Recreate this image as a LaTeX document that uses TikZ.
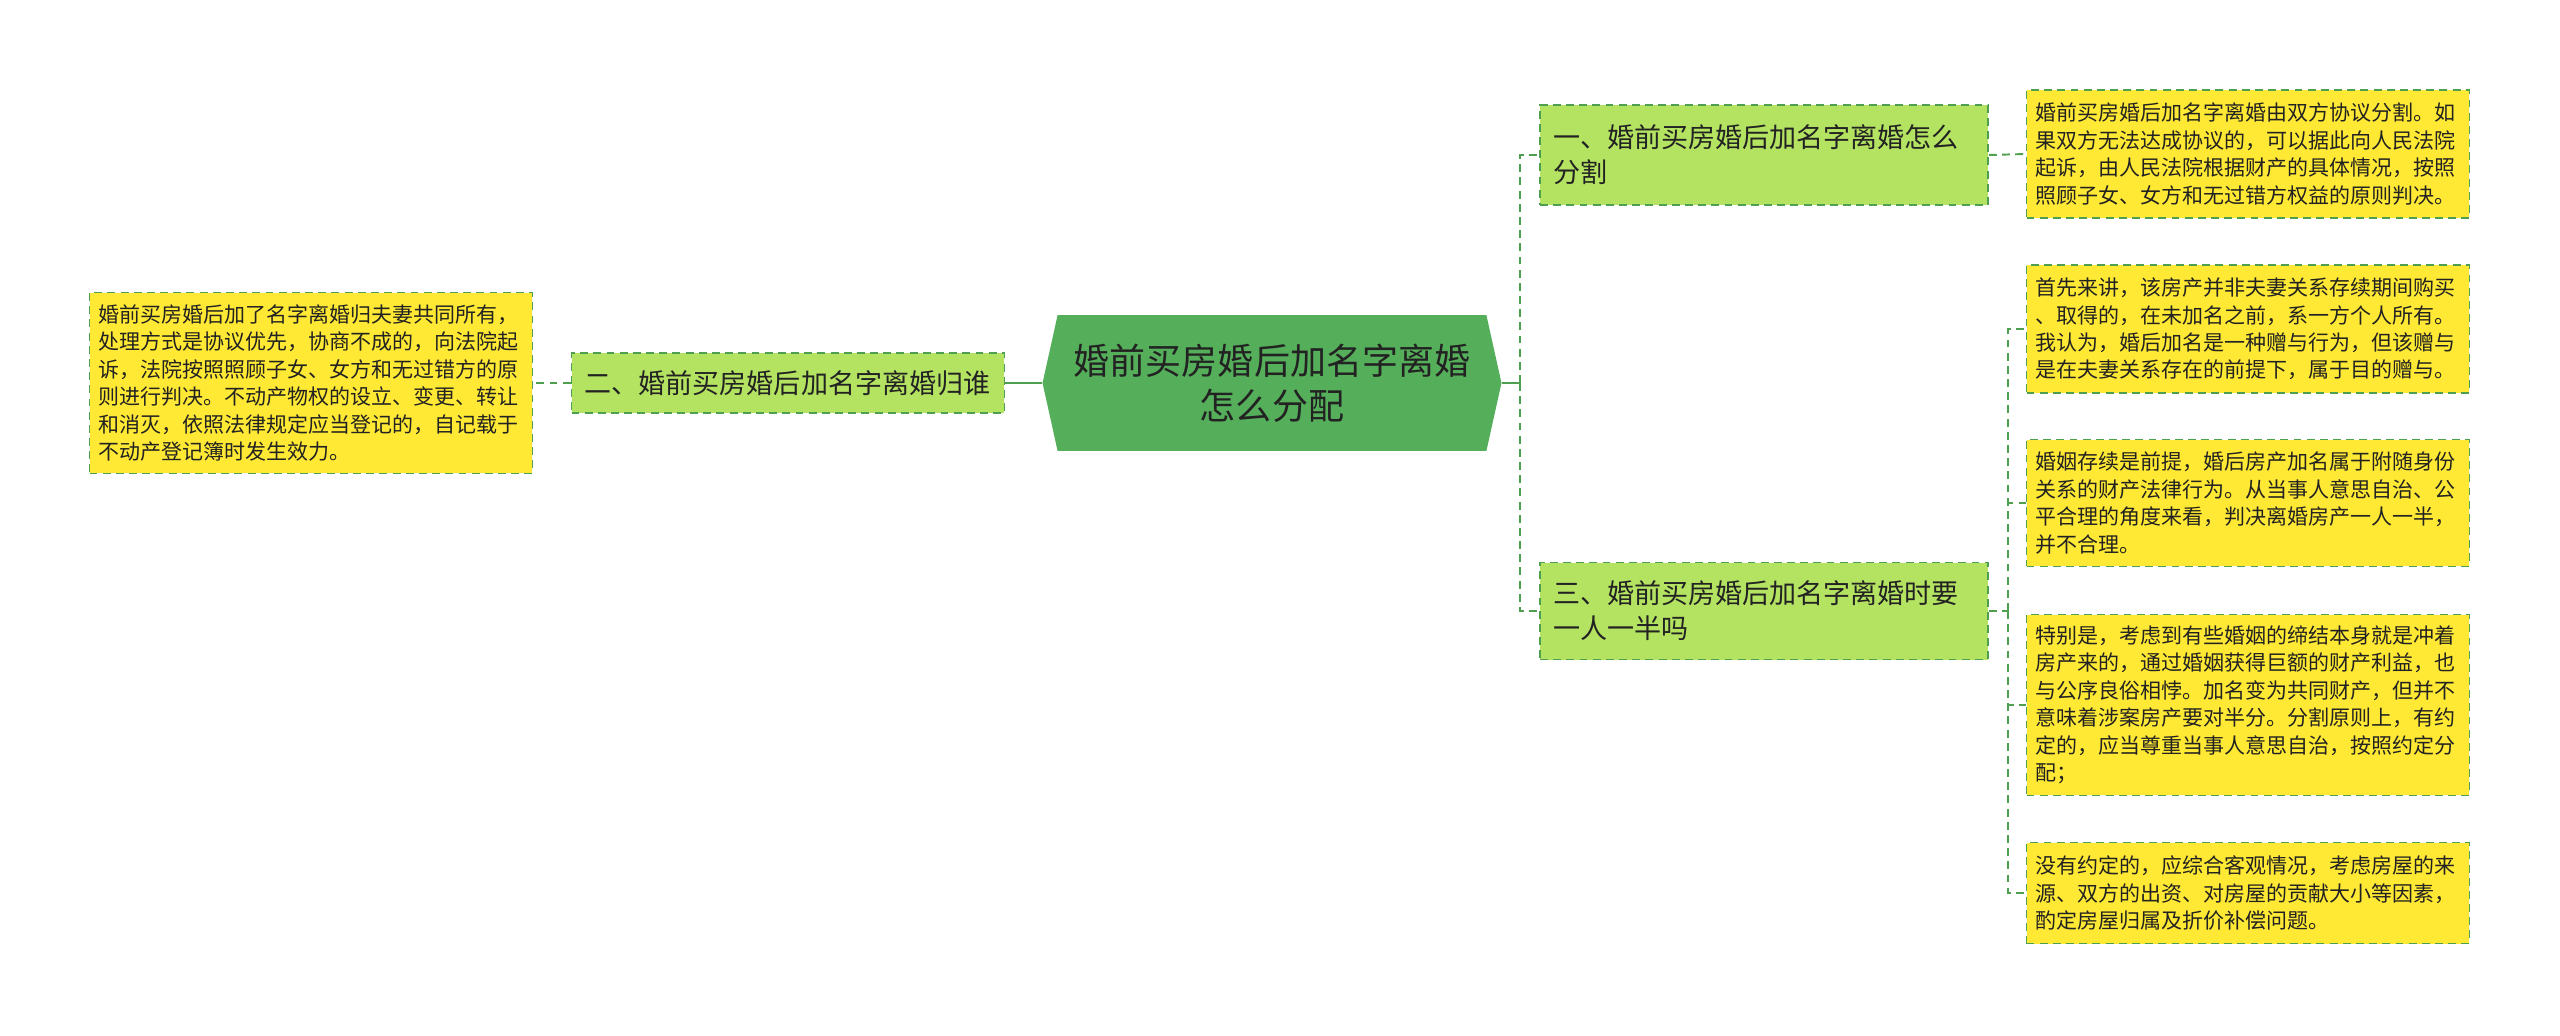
\documentclass[tikz,border=0pt]{standalone}
\usepackage{fontspec}
\newfontfamily\cjk{Noto Sans CJK SC}
\usetikzlibrary{shapes.symbols}
\definecolor{rootgreen}{HTML}{55AE5A}
\definecolor{branchgreen}{HTML}{B4E362}
\definecolor{leafyellow}{HTML}{FFE934}
\definecolor{linegreen}{HTML}{4F9F50}
\definecolor{inkgray}{HTML}{222222}

\tikzset{
	rootbox/.style={signal, signal to=east and west, signal pointer angle=155, fill=rootgreen, text=inkgray, align=center, minimum width=9.18cm, minimum height=2.72cm, inner sep=0pt, font=\cjk\fontsize{20.5pt}{25.6pt}\selectfont},
	branchbox/.style={draw=linegreen, dashed, dash pattern=on 4.5pt off 3pt, line width=1pt, fill=branchgreen, text=inkgray, align=left, inner xsep=0.26cm, inner ysep=0pt, font=\cjk\fontsize{15.4pt}{19.9pt}\selectfont},
	leafbox/.style={draw=linegreen, dashed, dash pattern=on 4.5pt off 3pt, line width=1pt, fill=leafyellow, text=inkgray, align=left, text width=8.5cm, inner xsep=0.18cm, inner ysep=0pt, font=\cjk\fontsize{11.95pt}{15.65pt}\selectfont},
	trunk/.style={draw=linegreen, line width=1.6pt},
	twig/.style={draw=linegreen, line width=1.1pt, dash pattern=on 4.5pt off 3pt}
}

\begin{document}
\begin{tikzpicture}[x=0.02cm, y=-0.02cm]
	\useasboundingbox (0,0) rectangle (2560,1035);

	\node[rootbox] (root) at (1272,383) {婚前买房婚后加名字离婚\\怎么分配};

	\node[branchbox, text width=8.14cm, minimum height=1.2cm] (b2) at (788,383) {二、婚前买房婚后加名字离婚归谁};
	\node[branchbox, text width=8.44cm, minimum height=2cm] (b1) at (1764,155) {一、婚前买房婚后加名字离婚怎么\\分割};
	\node[branchbox, text width=8.44cm, minimum height=1.94cm] (b3) at (1764,611) {三、婚前买房婚后加名字离婚时要\\一人一半吗};

	\node[leafbox, minimum height=3.62cm] (l0) at (311,383) {婚前买房婚后加了名字离婚归夫妻共同所有，\\处理方式是协议优先，协商不成的，向法院起\\诉，法院按照照顾子女、女方和无过错方的原\\则进行判决。不动产物权的设立、变更、转让\\和消灭，依照法律规定应当登记的，自记载于\\不动产登记簿时发生效力。};
	\node[leafbox, minimum height=2.56cm] (l1) at (2248,154) {婚前买房婚后加名字离婚由双方协议分割。如\\果双方无法达成协议的，可以据此向人民法院\\起诉，由人民法院根据财产的具体情况，按照\\照顾子女、女方和无过错方权益的原则判决。};
	\node[leafbox, minimum height=2.56cm] (l2) at (2248,329) {首先来讲，该房产并非夫妻关系存续期间购买\\、取得的，在未加名之前，系一方个人所有。\\我认为，婚后加名是一种赠与行为，但该赠与\\是在夫妻关系存在的前提下，属于目的赠与。};
	\node[leafbox, minimum height=2.54cm] (l3) at (2248,503) {婚姻存续是前提，婚后房产加名属于附随身份\\关系的财产法律行为。从当事人意思自治、公\\平合理的角度来看，判决离婚房产一人一半，\\并不合理。};
	\node[leafbox, minimum height=3.62cm] (l4) at (2248,705) {特别是，考虑到有些婚姻的缔结本身就是冲着\\房产来的，通过婚姻获得巨额的财产利益，也\\与公序良俗相悖。加名变为共同财产，但并不\\意味着涉案房产要对半分。分割原则上，有约\\定的，应当尊重当事人意思自治，按照约定分\\配；};
	\node[leafbox, minimum height=2.02cm] (l5) at (2248,893) {没有约定的，应综合客观情况，考虑房屋的来\\源、双方的出资、对房屋的贡献大小等因素，\\酌定房屋归属及折价补偿问题。};

	\coordinate (jr) at (1520,383);
	\coordinate (jl) at (2008,611);

	\draw[trunk] (root.west) -- (b2.east);
	\draw[twig] (b2.west) -- (l0.east);
	\draw[trunk] (root.east) -- (jr);
	\draw[twig] (jr) |- (b1.west);
	\draw[twig] (jr) |- (b3.west);
	\draw[twig] (b1.east) -- (l1.west);
	\draw[twig] (b3.east) -- (jl);
	\foreach \n in {l2,l3,l4,l5}
		\draw[twig] (jl) |- (\n.west);
\end{tikzpicture}
\end{document}
